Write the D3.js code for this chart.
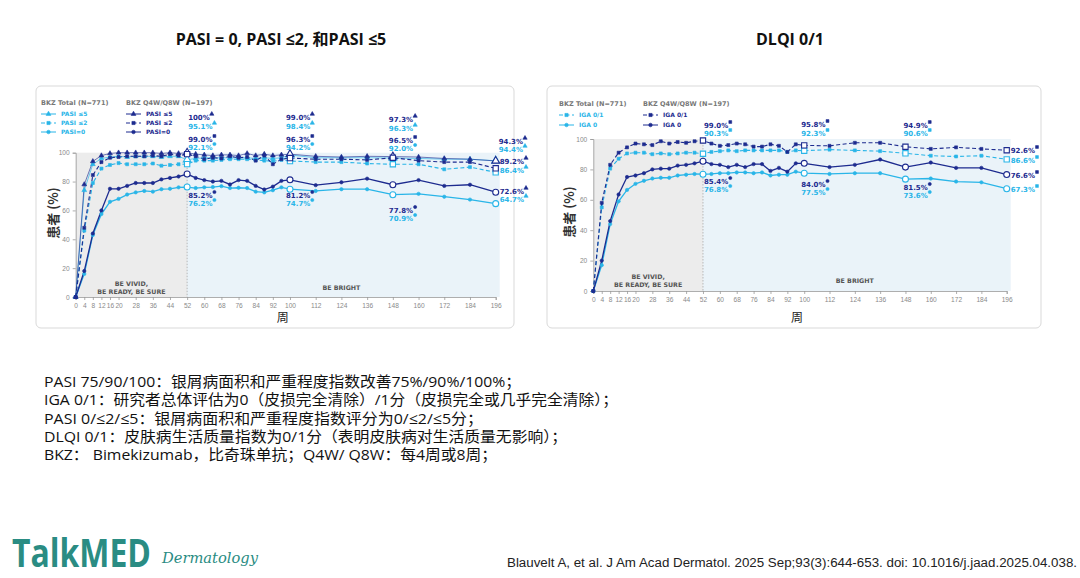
<!DOCTYPE html>
<html><head><meta charset="utf-8">
<script src="https://cdn.jsdelivr.net/npm/d3@7"></script>
<style>body{margin:0;background:#fff}svg{display:block}</style>
</head><body>
<svg id="c" width="1080" height="578"></svg>
<script>
// ---------- DATA ----------
const weeks = [0,4,8,12,16,20,24,28,32,36,40,44,48,52,56,60,64,68,72,76,80,84,88,92,96,100,112,124,136,148,160,172,184,196];
const xTickWeeks = [0,4,8,12,16,20,28,36,44,52,60,68,76,84,92,100,112,124,136,148,160,172,184,196];
const yTickValues = [0,20,40,60,80,100];
const keyWeeks = [52,100,148,196];

const pasiQ5 = [0,78,94,98,99.5,100,100,100,100,100,99.5,100,99.5,100, 99,98.5,98,98.5,98.5,98,99.5,98,99,98,98.5,99.0, 97.5,97,97.5,97.3,97,96,95.5,94.3];
const pasiT5 = [0,74,92,96,97,97.5,97,97.5,97.5,97.5,97,97.5,97.5,95.1, 96,96.5,96.5,96.5,96.5,96.5,96.5,96,96.5,96,96.5,98.4, 96.5,96.5,96.5,96.3,96,95.5,95.5,94.4];
const pasiQ2 = [0,48,84.5,93.5,96.5,97,97.5,97.5,97.5,98,97.5,99,98,99.0, 97.5,95.5,96.5,96,97.5,96.5,97,94.5,98,92,95.5,96.3, 95.5,95.5,95,96.5,94.5,93.5,93.5,89.2];
const pasiT2 = [0,46,79,89,91.5,92.8,92,92,92,92.5,91,91.5,92,92.1, 94.5,94.5,94.5,95,95.5,95.5,95.5,95,94.5,94,95,94.2, 93.5,93.5,92.5,92.0,92,88.5,90,86.4];
const pasiQ0 = [0,18,44,60,75,75,77,79,79,79,81.5,82.5,83.5,85.2, 82.5,81,80,80.5,78,81,80.5,77,74.5,76.5,80.5,81.2, 77.5,79.5,82,77.8,81,77,77.8,72.6];
const pasiT0 = [0,16,43,57.5,66,68,71,72.5,73.5,73,74.7,75,76,76.2, 75.5,76,76.2,76.8,75.5,75.7,75.5,73,72.5,74,76,74.7, 73.5,74.7,74.7,70.9,71.5,69.5,67.5,64.7];

const igaQ01 = [0,58,83,91,94.5,97,96.5,96,98.5,97,98,97.5,98.5,99.0, 97,95.5,96,97,96.5,95,95,96.5,95.5,91.5,96.5,95.8, 95.5,97.5,97.5,94.9,93.5,94.5,93.5,92.6];
const igaT01 = [0,55,80.5,87,90.5,91,91,90,90.5,90,90.5,91,91,90.3, 91.5,92,92.5,92,92.5,92.5,92.5,92.5,92.5,91.5,92.5,92.3, 93,92.5,92,90.6,89,88.5,89,86.6];
const igaQ0 = [0,20,46,63.5,75,76,77.5,80,80.5,80.5,82.5,83,84,85.4, 83.5,83,81.5,83,81.5,83.5,83.5,79,81,78.5,84,84.0, 81.5,83,86.5,81.5,84.5,81,81,76.6];
const igaT0 = [0,17,44,59,66.5,70.5,72.5,74,74.5,74.5,76,76.5,77,76.8, 77,77.5,77.5,78,78,77.5,78,76,76.5,76.5,78.5,77.5, 77,77.5,77.5,73.6,74,72,71.5,67.3];

// annotation labels at weeks 52/100/148 and 196
const pasiLabTopQ = ["100%","99.0%","97.3%"], pasiLabTopT = ["95.1%","98.4%","96.3%"];
const pasiLabMidQ = ["99.0%","96.3%","96.5%"], pasiLabMidT = ["92.1%","94.2%","92.0%"];
const pasiLabLowQ = ["85.2%","81.2%","77.8%"], pasiLabLowT = ["76.2%","74.7%","70.9%"];
const pasiEndLabels = ["94.3%","94.4%","89.2%","86.4%","72.6%","64.7%"];
const igaLabTopQ = ["99.0%","95.8%","94.9%"], igaLabTopT = ["90.3%","92.3%","90.6%"];
const igaLabLowQ = ["85.4%","84.0%","81.5%"], igaLabLowT = ["76.8%","77.5%","73.6%"];
const igaEndLabels = ["92.6%","86.6%","76.6%","67.3%"];

const notes = [
 "PASI 75/90/100：银屑病面积和严重程度指数改善75%/90%/100%；",
 "IGA 0/1：研究者总体评估为0（皮损完全清除）/1分（皮损完全或几乎完全清除）；",
 "PASI 0/≤2/≤5：银屑病面积和严重程度指数评分为0/≤2/≤5分；",
 "DLQI 0/1：皮肤病生活质量指数为0/1分（表明皮肤病对生活质量无影响）；",
 "BKZ： Bimekizumab，比奇珠单抗；Q4W/ Q8W：每4周或8周；"
];
const noteWidths = [477, 574, 439, 523, 453];

// ---------- STYLE ----------
const NAVY = "#1d2b8f", CYAN = "#29b5e8";
const FONT = "'DejaVu Sans', Verdana, sans-serif";
const svg = d3.select("#c");

function marker(g, shape, x, y, color, size, open) {
  const sym = shape === "tri" ? d3.symbolTriangle : shape === "sq" ? d3.symbolSquare : d3.symbolCircle;
  g.append("path").attr("d", d3.symbol().type(sym).size(size)())
    .attr("transform", `translate(${x},${y})`)
    .attr("fill", open ? "#fff" : color).attr("stroke", color).attr("stroke-width", open ? 1.1 : 0.6);
}

function panel(cfg) {
  const g = svg.append("g");
  g.append("rect").attr("x", cfg.box[0]).attr("y", cfg.box[1]).attr("width", cfg.box[2]).attr("height", cfg.box[3])
    .attr("rx", 5).attr("fill", "#fff").attr("stroke", "#d9d9d9").attr("stroke-width", 1);
  const x = d3.scaleLinear().domain([0,196]).range(cfg.xr);
  const y = d3.scaleLinear().domain([0,100]).range(cfg.yr);
  // backgrounds
  g.append("rect").attr("x", x(0)).attr("y", y(100)).attr("width", x(52)-x(0)).attr("height", y(0)-y(100)).attr("fill", "#ececec");
  g.append("rect").attr("x", x(52)).attr("y", y(100)).attr("width", x(196)-x(52)+4).attr("height", y(0)-y(100)).attr("fill", "#eaf3f9");
  g.append("line").attr("x1", x(52)).attr("x2", x(52)).attr("y1", y(100)).attr("y2", y(0))
    .attr("stroke", "#aaa").attr("stroke-width", 0.8).attr("stroke-dasharray", "1.5,1.5");
  // axes
  const xa = g.append("g").attr("transform", `translate(0,${y(0)})`)
    .call(d3.axisBottom(x).tickValues(xTickWeeks).tickSize(3).tickPadding(3));
  const ya = g.append("g").attr("transform", `translate(${x(0)},0)`)
    .call(d3.axisLeft(y).tickValues(yTickValues).tickSize(3).tickPadding(3));
  [xa, ya].forEach(a => {
    a.selectAll("path,line").attr("stroke", "#999").attr("stroke-width", 0.8);
    a.selectAll("text").attr("fill", "#8a8a8a").attr("font-size", 6.6).attr("font-family", "'Liberation Sans', Arial, sans-serif");
  });
  // region labels
  const rl = (t, cx, cy) => g.append("text").attr("x", cx).attr("y", cy).attr("text-anchor", "middle")
    .attr("font-family", FONT).attr("font-size", 6.3).attr("font-weight", "bold").attr("fill", "#555").text(t);
  rl("BE VIVID,", (x(0)+x(52))/2, cfg.regionY[0]);
  rl("BE READY, BE SURE", (x(0)+x(52))/2, cfg.regionY[1]);
  rl("BE BRIGHT", (x(52)+x(196))/2, cfg.regionY[2]);
  // axis titles
  g.append("text").attr("x", (x(0)+x(196))/2 - 3).attr("y", cfg.xTitleY).attr("text-anchor", "middle")
    .attr("font-family", "'Noto Sans CJK SC'").attr("font-size", 12).attr("fill", "#222").text("周");
  g.append("text").attr("transform", `translate(${cfg.yTitleX},${cfg.yTitleCY}) rotate(-90)`).attr("text-anchor", "middle")
    .attr("font-family", "'Noto Sans CJK SC'").attr("font-size", 13).attr("font-weight", "bold").attr("fill", "#333").text("患者 (%)");
  // series
  const line = d3.line().x((d,i) => x(weeks[i])).y(d => y(d));
  cfg.series.forEach(s => {
    g.append("path").attr("d", line(s.values)).attr("fill", "none").attr("stroke", s.color)
      .attr("stroke-width", s.width).attr("stroke-dasharray", s.dash || null).attr("opacity", s.op || 1);
  });
  cfg.series.forEach(s => {
    s.values.forEach((v,i) => {
      const open = keyWeeks.includes(weeks[i]);
      marker(g, s.shape, x(weeks[i]), y(v), s.color, open ? (s.shape==="tri"?26:28) : (s.shape==="tri"?10:9), open);
    });
  });
  // legend
  const lg = cfg.legend;
  [[lg.x1, "BKZ Total (N=771)", CYAN], [lg.x2, "BKZ Q4W/Q8W (N=197)", NAVY]].forEach(([lx, title, col], k) => {
    g.append("text").attr("x", lx).attr("y", lg.y).attr("font-family", FONT).attr("font-size", 6.5)
      .attr("font-weight", "bold").attr("fill", "#777").text(title);
    cfg.series.filter(s => s.color === col).forEach((s, j) => {
      const yy = lg.y + 11 + j * lg.dy;
      g.append("line").attr("x1", lx).attr("x2", lx + 15).attr("y1", yy - 2).attr("y2", yy - 2)
        .attr("stroke", col).attr("stroke-width", 1).attr("stroke-dasharray", s.dash || null);
      marker(g, s.shape, lx + 7.5, yy - 2, col, 10, false);
      g.append("text").attr("x", lx + 20).attr("y", yy).attr("font-family", FONT).attr("font-size", 6)
        .attr("font-weight", "bold").attr("fill", col).text(s.name);
    });
  });
  // annotations
  const ann = (t, ax, ay, col, shape) => {
    const tx = g.append("text").attr("x", ax).attr("y", ay).attr("font-family", FONT).attr("font-size", 7)
      .attr("font-weight", "bold").attr("fill", col).text(t);
    const w = tx.node().getComputedTextLength();
    marker(g, shape, ax + w + 2, ay - 6, col, 8, false);
  };
  cfg.annotations.forEach(a => a.labels.forEach((t, i) => ann(t, x(a.weeksAt[i]) + a.dx[i], a.y[i], a.color, a.shape)));
}

// ---------- PANELS ----------
panel({
  box: [36, 86, 478, 242], xr: [75.7, 495.7], yr: [297, 152.7],
  regionY: [286, 294, 290], xTitleY: 322, yTitleX: 58, yTitleCY: 213,
  legend: { x1: 41, x2: 126, y: 105, dy: 9 },
  series: [
    { name: "PASI ≤5", values: pasiT5, color: CYAN, shape: "tri", width: 0.9, op: 0.75 },
    { name: "PASI ≤2", values: pasiT2, color: CYAN, shape: "sq", width: 1.1, dash: "4,2.5" },
    { name: "PASI=0", values: pasiT0, color: CYAN, shape: "circ", width: 1.3 },
    { name: "PASI ≤5", values: pasiQ5, color: NAVY, shape: "tri", width: 0.9, op: 0.7 },
    { name: "PASI ≤2", values: pasiQ2, color: NAVY, shape: "sq", width: 1.1, dash: "4,2.5" },
    { name: "PASI=0", values: pasiQ0, color: NAVY, shape: "circ", width: 1.3 }
  ],
  annotations: [
    { labels: pasiLabTopQ, weeksAt: [52,100,148], dx: [1,-4,-4], y: [120,120,122], color: NAVY, shape: "tri" },
    { labels: pasiLabTopT, weeksAt: [52,100,148], dx: [1,-4,-4], y: [129,129,131], color: CYAN, shape: "tri" },
    { labels: pasiLabMidQ, weeksAt: [52,100,148], dx: [1,-4,-4], y: [142,142,143], color: NAVY, shape: "sq" },
    { labels: pasiLabMidT, weeksAt: [52,100,148], dx: [1,-4,-4], y: [150,150,151], color: CYAN, shape: "circ" },
    { labels: pasiLabLowQ, weeksAt: [52,100,148], dx: [1,-4,-4], y: [198,198,213], color: NAVY, shape: "circ" },
    { labels: pasiLabLowT, weeksAt: [52,100,148], dx: [1,-4,-4], y: [206,206,221], color: CYAN, shape: "circ" },
    { labels: pasiEndLabels.filter((d,i)=>i%2===0), weeksAt: [196,196,196], dx: [3,4,4], y: [144,164,194], color: NAVY, shape: "tri" },
    { labels: pasiEndLabels.filter((d,i)=>i%2===1), weeksAt: [196,196,196], dx: [3,4,4], y: [152,173,202], color: CYAN, shape: "tri" }
  ]
});

panel({
  box: [547, 86, 494, 242], xr: [593.3, 1006.7], yr: [291, 139],
  regionY: [279, 287, 283], xTitleY: 322, yTitleX: 574, yTitleCY: 212,
  legend: { x1: 559, x2: 643, y: 106, dy: 10 },
  series: [
    { name: "IGA 0/1", values: igaT01, color: CYAN, shape: "sq", width: 1.1, dash: "4,2.5" },
    { name: "IGA 0", values: igaT0, color: CYAN, shape: "circ", width: 1.3 },
    { name: "IGA 0/1", values: igaQ01, color: NAVY, shape: "sq", width: 1.1, dash: "4,2.5" },
    { name: "IGA 0", values: igaQ0, color: NAVY, shape: "circ", width: 1.3 }
  ],
  annotations: [
    { labels: igaLabTopQ, weeksAt: [52,100,148], dx: [1,-3,-2], y: [128,127,128], color: NAVY, shape: "sq" },
    { labels: igaLabTopT, weeksAt: [52,100,148], dx: [1,-3,-2], y: [136,136,136], color: CYAN, shape: "sq" },
    { labels: igaLabLowQ, weeksAt: [52,100,148], dx: [1,-3,-2], y: [184,187,190], color: NAVY, shape: "circ" },
    { labels: igaLabLowT, weeksAt: [52,100,148], dx: [1,-3,-2], y: [192,195,198], color: CYAN, shape: "circ" },
    { labels: [igaEndLabels[0], igaEndLabels[2]], weeksAt: [196,196], dx: [4,4], y: [153,178], color: NAVY, shape: "sq" },
    { labels: [igaEndLabels[1], igaEndLabels[3]], weeksAt: [196,196], dx: [4,4], y: [163,192], color: CYAN, shape: "sq" }
  ]
});

// ---------- TITLES & TEXT ----------
const tf = "'Open Sans','Noto Sans CJK SC',sans-serif";
svg.append("text").attr("x", 281).attr("y", 45).attr("text-anchor", "middle").attr("font-family", tf)
  .attr("font-weight", "bold").attr("font-size", 16).attr("fill", "#111").text("PASI = 0, PASI ≤2, 和PASI ≤5");
svg.append("text").attr("x", 790).attr("y", 45).attr("text-anchor", "middle").attr("font-family", tf)
  .attr("font-weight", "bold").attr("font-size", 16).attr("fill", "#111").text("DLQI 0/1");

svg.append("g").selectAll("text").data(notes).join("text")
  .attr("x", 44).attr("y", (d,i) => 387 + i * 18.3)
  .attr("textLength", (d,i) => noteWidths[i]).attr("lengthAdjust", "spacingAndGlyphs")
  .attr("font-family", "'Open Sans','Noto Sans CJK SC',sans-serif").attr("font-size", 15).attr("fill", "#111").text(d => d);

svg.append("text").attr("transform", "translate(12,567) scale(1,1.25)").attr("font-family", "'Open Sans',sans-serif").attr("font-weight", "bold")
  .attr("font-size", 31).attr("fill", "#2a8c83").attr("textLength", 139).attr("lengthAdjust", "spacingAndGlyphs").text("TalkMED");
svg.append("text").attr("x", 162).attr("y", 563).attr("font-family", "'DejaVu Serif',serif").attr("font-style", "italic")
  .attr("font-size", 15).attr("fill", "#2a8c83").attr("textLength", 96).attr("lengthAdjust", "spacingAndGlyphs").text("Dermatology");
svg.append("text").attr("x", 507).attr("y", 567).attr("font-family", "'Liberation Sans Narrow','Liberation Sans',sans-serif")
  .attr("font-size", 12.5).attr("fill", "#222").attr("textLength", 570).attr("lengthAdjust", "spacingAndGlyphs")
  .text("Blauvelt A, et al. J Am Acad Dermatol. 2025 Sep;93(3):644-653. doi: 10.1016/j.jaad.2025.04.038.");
</script>
</body></html>
